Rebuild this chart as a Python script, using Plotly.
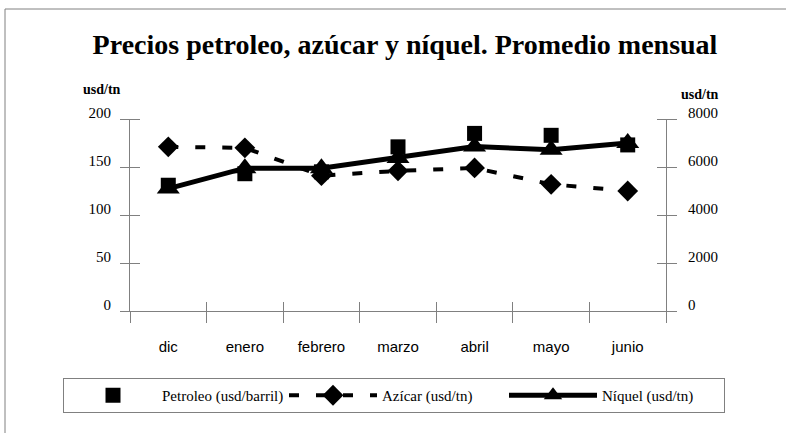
import plotly.graph_objects as go

categories = ["dic", "enero", "febrero", "marzo", "abril", "mayo", "junio"]
petroleo = [131, 143, 145, 171, 185, 183, 173]
azucar = [171, 170, 141, 146, 149, 132, 125]
niquel = [5100, 5950, 5950, 6380, 6850, 6720, 7000]

left_ticks = [0, 50, 100, 150, 200]
right_ticks = [0, 2000, 4000, 6000, 8000]

W, H = 786, 433
L, R, T, B = 130, 666, 119, 311  # plot area pixels

def px_to_paper_x(px):
    return (px - L) / (R - L)

def px_to_paper_y(py):
    return (B - py) / (B - T)

GRAY = "#808080"
SANS = "Liberation Sans"
SERIF = "Times New Roman"

fig = go.Figure()

fig.add_trace(go.Scatter(
    x=categories, y=petroleo, name="Petroleo (usd/barril)",
    mode="markers", xaxis="x", yaxis="y",
    marker=dict(symbol="square", size=15, color="black", line=dict(width=0)),
))
fig.add_trace(go.Scatter(
    x=categories, y=azucar, name="Azícar (usd/tn)",
    mode="lines+markers", xaxis="x", yaxis="y",
    line=dict(color="black", width=4, dash="10px,17px"),
    marker=dict(symbol="diamond", size=16, color="black", line=dict(width=0)),
))
fig.add_trace(go.Scatter(
    x=categories, y=niquel, name="Níquel (usd/tn)",
    mode="lines+markers", xaxis="x2", yaxis="y2",
    line=dict(color="black", width=5),
    marker=dict(symbol="triangle-up", size=20, color="black", line=dict(width=0)),
))

fig.update_layout(
    width=W, height=H, autosize=False,
    margin=dict(l=L, r=W - R, t=T, b=H - B, pad=0, autoexpand=False),
    paper_bgcolor="white", plot_bgcolor="white",
    showlegend=True,
    title=dict(
        text="<b>Precios petroleo, azúcar y níquel. Promedio mensual</b>",
        font=dict(family=SERIF, size=28, color="black"),
        x=405 / W, xanchor="center", y=1 - 44 / H, yanchor="middle",
    ),
    xaxis=dict(
        type="category", categoryarray=categories, range=[-0.5, len(categories) - 0.5],
        tickson="boundaries", ticks="outside", ticklen=11, tickcolor=GRAY, tickwidth=1,
        showline=True, linecolor=GRAY, linewidth=1, showgrid=False, zeroline=False,
        tickfont=dict(family=SANS, size=15, color="black"), ticklabelstandoff=22,
    ),
    xaxis2=dict(
        type="category", categoryarray=categories, range=[-0.5, len(categories) - 0.5],
        overlaying="x", anchor="y2",
        tickson="boundaries", ticks="inside", ticklen=9, tickcolor=GRAY, tickwidth=1,
        showticklabels=False, showline=False, showgrid=False, zeroline=False,
    ),
    yaxis=dict(
        range=[0, 200], tickvals=left_ticks, ticks="outside", ticklen=9,
        tickcolor=GRAY, tickwidth=1, showline=True, linecolor=GRAY, linewidth=1,
        showgrid=False, zeroline=False,
        minor=dict(tickvals=left_ticks, ticks="inside", ticklen=10, tickcolor=GRAY, tickwidth=1, showgrid=False),
        tickfont=dict(family=SERIF, size=15, color="black"),
        ticklabelstandoff=6, ticklabelshift=-6,
    ),
    yaxis2=dict(
        range=[0, 8000], tickvals=right_ticks, side="right", overlaying="y", anchor="x2",
        ticks="outside", ticklen=10, tickcolor=GRAY, tickwidth=1,
        showline=True, linecolor=GRAY, linewidth=1, showgrid=False, zeroline=False,
        minor=dict(tickvals=right_ticks, ticks="inside", ticklen=9, tickcolor=GRAY, tickwidth=1, showgrid=False),
        tickfont=dict(family=SERIF, size=15, color="black"),
        ticklabelstandoff=8, ticklabelshift=-6,
    ),
    legend=dict(
        orientation="h", x=px_to_paper_x(63), xanchor="left",
        y=px_to_paper_y(378), yanchor="top",
        bordercolor=GRAY, borderwidth=1, bgcolor="white",
        font=dict(family=SERIF, size=15, color="black"),
        entrywidth=117, entrywidthmode="pixels", itemwidth=88,
        traceorder="normal",
    ),
    annotations=[
        dict(text="<b>usd/tn</b>", xref="paper", yref="paper",
             x=px_to_paper_x(102), y=px_to_paper_y(89), showarrow=False,
             font=dict(family=SERIF, size=14, color="black"), xanchor="center", yanchor="middle"),
        dict(text="<b>usd/tn</b>", xref="paper", yref="paper",
             x=px_to_paper_x(700), y=px_to_paper_y(94), showarrow=False,
             font=dict(family=SERIF, size=14, color="black"), xanchor="center", yanchor="middle"),
    ],
    shapes=[
        dict(type="line", xref="paper", yref="paper",
             x0=px_to_paper_x(5), x1=px_to_paper_x(786), y0=px_to_paper_y(9), y1=px_to_paper_y(9),
             line=dict(color=GRAY, width=1)),
        dict(type="line", xref="paper", yref="paper",
             x0=px_to_paper_x(5), x1=px_to_paper_x(5), y0=px_to_paper_y(9), y1=px_to_paper_y(433),
             line=dict(color=GRAY, width=1)),
    ],
)

fig.write_html("out.html", config={"displayModeBar": False},
               post_script="document.body.style.margin='0';")
